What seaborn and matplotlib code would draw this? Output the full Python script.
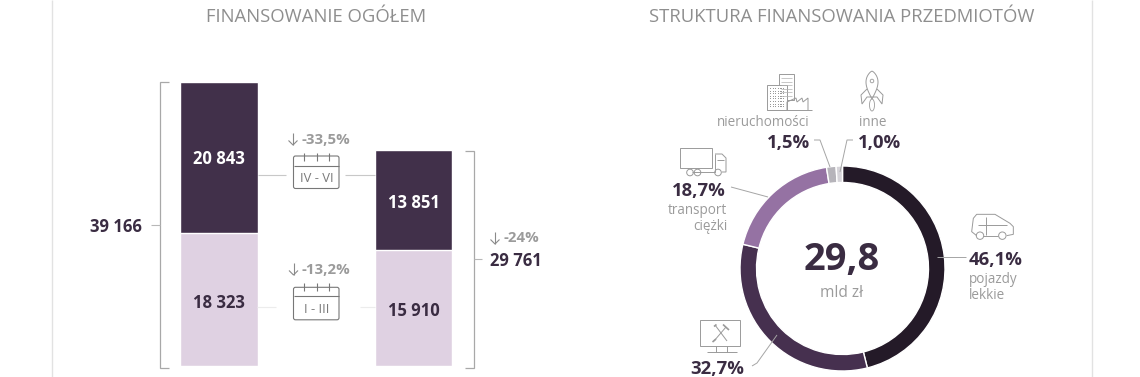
import matplotlib
matplotlib.use("Agg")
import matplotlib.pyplot as plt
import seaborn as sns
import pandas as pd
import numpy as np
from matplotlib.patches import Rectangle, FancyBboxPatch, Circle, Ellipse

W, H = 1140, 377

# ---- data ----
years = ["A", "B"]
q1_values = [18323, 15910]
q2_values = [20843, 13851]
total_labels = ["39 166", "29 761"]
q1_labels = ["18 323", "15 910"]
q2_labels = ["20 843", "13 851"]
share_names = ["pojazdy lekkie", "maszyny", "transport ciężki", "nieruchomości", "inne"]
share_values = [46.1, 32.7, 18.7, 1.5, 1.0]

DARK = "#41304a"
LIGHT = "#dfd1e2"
TXT = "#3a2c42"
GREY = "#9b9b9b"
TITLE = "#8e8e8e"
ICON = "#9a9a9a"
share_colors = ["#241a28", "#46304f", "#9572a3", "#b6b4ba", "#d6d4d9"]

sns.set_theme(style="white")
plt.rcParams["font.family"] = ["Open Sans", "DejaVu Sans"]

fig = plt.figure(figsize=(W / 100, H / 100), dpi=100, facecolor="white")


def axes_px(left, top, width, height, **kw):
    return fig.add_axes([left / W, 1 - (top + height) / H, width / W, height / H], **kw)


# ---- stacked bars ----
PX_PER_UNIT = 0.00725
BAR_BOTTOM = 365.7
bar_ax = axes_px(121.75, BAR_BOTTOM - 40000 * PX_PER_UNIT, 389, 40000 * PX_PER_UNIT)
df = pd.DataFrame({"okres": years, "q1": q1_values, "q2": q2_values})
df["suma"] = df["q1"] + df["q2"]
sns.barplot(data=df, x="okres", y="suma", color=DARK, saturation=1, width=0.398, ax=bar_ax)
sns.barplot(data=df, x="okres", y="q1", color=LIGHT, saturation=1, width=0.398, ax=bar_ax)
bar_ax.set_xlim(-0.5, 1.5)
bar_ax.set_ylim(0, 40000)
bar_ax.axis("off")

# ---- donut ----
pie_ax = axes_px(740, 166, 205, 205)
pie_ax.pie(share_values, colors=share_colors, startangle=90, counterclock=False, radius=1,
           wedgeprops=dict(width=16.5 / 102.5, edgecolor="white", linewidth=1.0))
pie_ax.set_xlim(-1, 1)
pie_ax.set_ylim(-1, 1)

# ---- overlay in pixel coordinates ----
ov = axes_px(0, 0, W, H)
ov.set_xlim(0, W)
ov.set_ylim(H, 0)
ov.axis("off")
ov.patch.set_alpha(0)


def px(size):
    return size * 0.72


def txt(x, y, s, size, color=TXT, ha="center", weight="normal"):
    ov.text(x, y + 1.5, s, fontsize=px(size), color=color, ha=ha, va="center", fontweight=weight)


def line(xs, ys, color=ICON, lw=0.7):
    ov.plot(xs, ys, color=color, lw=lw, solid_capstyle="butt", solid_joinstyle="miter")


# frame
line([52, 52], [0, H], "#e2e2e2", 1.0)
line([1092, 1092], [0, H], "#e2e2e2", 1.0)

# titles
txt(316, 16, "FINANSOWANIE OGÓŁEM", 18.5, TITLE)
txt(842, 16, "STRUKTURA FINANSOWANIA PRZEDMIOTÓW", 18.5, TITLE)

# bar labels
txt(219, 158, q2_labels[0], 16.6, "white", weight="bold")
txt(413.5, 201, q2_labels[1], 16.6, "white", weight="bold")
txt(219, 301, q1_labels[0], 16.6, TXT, weight="bold")
txt(414, 310, q1_labels[1], 16.6, TXT, weight="bold")
txt(116, 226, total_labels[0], 16.6, TXT, weight="bold")
txt(516, 260, total_labels[1], 16.6, TXT, weight="bold")

# brackets
line([169, 159.5, 159.5, 169], [82, 82, 368, 368], "#a8a8a8", 0.9)
line([151, 159.5], [225, 225], "#b8b8b8", 0.8)
line([465, 473.5, 473.5, 465], [151, 151, 368, 368], "#a8a8a8", 0.9)
line([473.5, 482], [259, 259], "#b8b8b8", 0.8)

# connectors
line([258, 286], [175, 175], "#c8c8c8", 0.8)
line([345, 375], [175, 175], "#c8c8c8", 0.8)
line([257, 276], [307, 307], "#ececec", 0.8)
line([360, 375], [307, 307], "#ececec", 0.8)


def arrow(x, y):
    line([x, x], [y - 6, y + 6], "#8a8a8a", 0.8)
    line([x - 4.5, x, x + 4.5], [y + 1.5, y + 6, y + 1.5], "#8a8a8a", 0.8)


arrow(293, 139)
txt(301, 138, "-33,5%", 15, GREY, ha="left", weight="bold")
arrow(293.5, 269)
txt(302, 268, "-13,2%", 15, GREY, ha="left", weight="bold")
arrow(495, 238)
txt(503, 237, "-24%", 15, GREY, ha="left", weight="bold")


def calendar(top, header, tick_top, label):
    bottom = top + 32.5
    ov.add_patch(FancyBboxPatch((293.5, top), 45.5, bottom - top, boxstyle="round,pad=0,rounding_size=2",
                                fc="white", ec="#777777", lw=0.8))
    line([293.5, 339], [header, header], "#777777", 0.8)
    for x in (304, 316.7, 328.7):
        line([x, x], [tick_top, tick_top + 8], "#777777", 0.8)
    txt(316.5, top + 20.5, label, 13, "#7a7a7a")


calendar(156, 165.7, 152.5, "IV - VI")
calendar(287.3, 296, 283, "I - III")

# donut centre
txt(842, 258.5, "29,8", 38, TXT, weight="bold")
txt(842, 291.5, "mld zł", 15.5, GREY)

# donut labels
txt(969, 258.5, "46,1%", 18.5, TXT, ha="left", weight="bold")
txt(969, 278, "pojazdy", 13.5, GREY, ha="left")
txt(969, 294, "lekkie", 13.5, GREY, ha="left")
txt(726, 190, "18,7%", 18.5, TXT, ha="right", weight="bold")
txt(727, 209, "transport", 13.5, GREY, ha="right")
txt(727, 225.5, "ciężki", 13.5, GREY, ha="right")
txt(810, 121, "nieruchomości", 13.5, GREY, ha="right")
txt(810, 142, "1,5%", 18.5, TXT, ha="right", weight="bold")
txt(859, 121, "inne", 13.5, GREY, ha="left")
txt(858, 142, "1,0%", 18.5, TXT, ha="left", weight="bold")
txt(744, 367, "32,7%", 18.5, TXT, ha="right", weight="bold")

# leaders
line([937, 966], [257, 257], "#a5a5a5", 0.7)
line([731, 768], [187, 197], "#a5a5a5", 0.7)
line([814, 820, 830], [140, 140, 167], "#a5a5a5", 0.7)
line([853, 847, 840], [140, 140, 172], "#a5a5a5", 0.7)
line([752, 757, 777], [366, 363, 335], "#a5a5a5", 0.7)


def rect(x0, y0, x1, y1, fc="white"):
    ov.add_patch(Rectangle((x0, y0), x1 - x0, y1 - y0, fc=fc, ec=ICON, lw=0.7))


# building
rect(779, 74, 794, 100)
for y in (78, 81.5, 85, 88.5, 92, 95.5):
    line([781, 792], [y, y], "#b0b0b0", 0.5)
rect(767, 85, 787, 110)
for x in np.arange(770, 785, 2.6):
    for y in np.arange(88, 108, 2.6):
        ov.add_patch(Rectangle((x, y), 1.1, 1.1, fc="#999999", ec="none"))
line([787, 787, 796, 797, 802, 803, 808, 808],
     [110, 102, 98, 102, 98, 102, 98, 110])
line([767, 812], [110, 110])

# rocket
cx = 872
t = np.linspace(0, 1, 30)
line(cx + 6 * np.sin(np.pi * t ** 0.75), 71 + 28 * t, ICON, 0.7)
line(cx - 6 * np.sin(np.pi * t ** 0.75), 71 + 28 * t, ICON, 0.7)
ov.add_patch(Circle((cx, 81), 1.8, fc="white", ec=ICON, lw=0.6))
line([cx - 5, cx - 11, cx - 10, cx - 5, cx], [89, 95, 104, 97, 97])
line([cx + 5, cx + 11, cx + 10, cx + 5, cx], [89, 95, 104, 97, 97])
ov.add_patch(Ellipse((cx, 105), 5, 12, fc="white", ec=ICON, lw=0.6))

# truck
rect(680, 148, 711.7, 168)
line([715, 722, 726, 726, 722], [154, 154, 158, 172, 172])
line([715, 715, 692], [154, 172, 172])
line([717, 724], [160, 160])
for x in (690, 697.5, 718):
    ov.add_patch(Circle((x, 172.5), 3.3, fc="white", ec=ICON, lw=0.7))

# car
line(np.array([50, 35, 40, 50, 105, 150, 160, 160, 140]) / 3 + 960,
     np.array([92, 80, 40, 28, 28, 55, 65, 88, 92]) / 3 + 205)
line([960 + 70 / 3, 960 + 115 / 3], [205 + 92 / 3] * 2)
line([960 + 78 / 3] * 2, [205 + 35 / 3, 205 + 90 / 3])
line([960 + 55 / 3, 960 + 140 / 3], [205 + 60 / 3] * 2)
for x in (60, 127):
    ov.add_patch(Circle((960 + x / 3, 205 + 92 / 3), 3.7, fc="white", ec=ICON, lw=0.7))

# monitor
rect(700, 320, 740, 346)
line([716, 716], [346, 351.7])
line([726.5, 726.5], [346, 351.7])
line([706.5, 736.5], [351.7, 351.7])
line([715, 727], [325, 341])
line([714, 716.5], [326.5, 324.5], ICON, 1.2)
line([714, 726], [341, 327])
line([716, 712.5], [339, 342], ICON, 1.2)
line([723, 729], [324.5, 330], ICON, 1.2)

fig.savefig("out.png", dpi=100, facecolor="white")
